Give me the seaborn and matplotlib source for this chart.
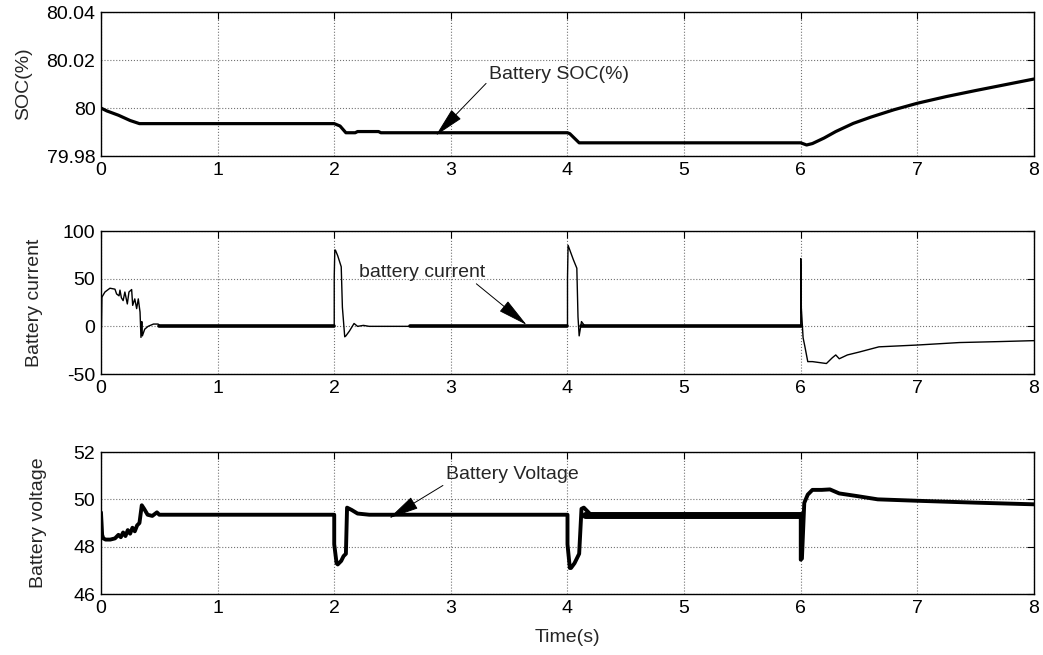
import matplotlib
matplotlib.use('Agg')
import seaborn as sns
import matplotlib.pyplot as plt

# SOC (%) trace
soc_t = [0, 0.05, 0.15, 0.25, 0.33, 2.0, 2.05, 2.1, 2.18, 2.2, 2.38, 2.4, 4.0, 4.02, 4.1,
         6.0, 6.05, 6.1, 6.2, 6.3, 6.45, 6.6, 6.8, 7.0, 7.25, 7.5, 7.75, 8.0]
soc = [80.0, 79.9988, 79.997, 79.9948, 79.9935, 79.9935, 79.9925, 79.9897, 79.9897, 79.9902,
       79.9902, 79.9897, 79.9897, 79.9893, 79.9855, 79.9855, 79.9846, 79.9852, 79.9875, 79.9902,
       79.9936, 79.9962, 79.9993, 80.0020, 80.0048, 80.0073, 80.0097, 80.0121]

# battery current trace
cur_t = [0, 0.004, 0.008, 0.01, 0.034, 0.077, 0.12, 0.134, 0.155, 0.163,
         0.175, 0.19, 0.205, 0.226, 0.24, 0.263, 0.272, 0.29, 0.306, 0.32,
         0.335, 0.343, 0.35, 0.355, 0.375, 0.404, 0.45, 0.49, 0.51, 2.0,
         2.0, 2.005, 2.01, 2.03, 2.06, 2.07, 2.09, 2.1, 2.13, 2.17,
         2.2, 2.25, 2.3, 4.0, 4.0, 4.005, 4.02, 4.05, 4.08, 4.09,
         4.1, 4.12, 4.15, 6.0, 6.0, 6.005, 6.02, 6.035, 6.06, 6.1,
         6.22, 6.27, 6.3, 6.33, 6.4, 6.5, 6.67, 7.0, 7.36, 7.7, 8.0]
cur = [0, -2, 30, 31, 36, 40, 39, 34, 32, 38,
       30, 27, 36, 23.5, 36, 38.6, 22, 28.8, 18.6, 28.8,
       15, -11.6, 5, -10, -3, 0, 2.4, 2.4, 0, 0,
       52, 80, 80, 74, 62.5, 20, -11, -10, -5, 3,
       0, 1, 0, 0, 50, 85, 80, 70, 61, 10,
       -10, 5, 0, 0, 71, 19, -12, -21, -37, -37,
       -39, -33, -30, -34, -30, -27, -21.5, -19.6, -17, -16, -15]
# switching ripple bands of the current (around 0 A)
cur_band_start = [0.5, 2.65, 4.12]
cur_band_end = [2.0, 4.0, 6.0]

# battery voltage trace
volt_t = [0, 0.005, 0.01, 0.02, 0.04, 0.08, 0.12, 0.15, 0.17, 0.19,
          0.21, 0.23, 0.25, 0.27, 0.29, 0.31, 0.33, 0.35, 0.37, 0.4,
          0.44, 0.48, 0.5, 0.53, 2.0, 2.0, 2.02, 2.03, 2.06, 2.08,
          2.1, 2.11, 2.15, 2.2, 2.3, 4.0, 4.0, 4.02, 4.03, 4.06,
          4.1, 4.12, 4.14, 4.2, 6.0, 6.0, 6.01, 6.03, 6.06, 6.1,
          6.18, 6.25, 6.33, 6.48, 6.66, 7.0, 7.5, 8.0]
volt = [49.45, 49.0, 48.5, 48.35, 48.3, 48.3, 48.35, 48.5, 48.4, 48.6,
        48.45, 48.7, 48.55, 48.8, 48.65, 48.9, 49.0, 49.75, 49.6, 49.35,
        49.3, 49.45, 49.35, 49.35, 49.35, 48.1, 47.3, 47.25, 47.4, 47.6,
        47.7, 49.65, 49.55, 49.4, 49.35, 49.35, 48.1, 47.1, 47.1, 47.3,
        47.7, 49.6, 49.65, 49.35, 49.35, 47.45, 47.5, 49.85, 50.2, 50.4,
        50.4, 50.42, 50.25, 50.14, 50.0, 49.94, 49.86, 49.79]
volt_band_start = [4.15]
volt_band_end = [6.0]

x_ticks = [0, 1, 2, 3, 4, 5, 6, 7, 8]
soc_ticks = [79.98, 80.0, 80.02, 80.04]
soc_labels = ['79.98', '80', '80.02', '80.04']
cur_ticks = [-50, 0, 50, 100]
volt_ticks = [46, 48, 50, 52]

sns.set_style('white')
plt.rcParams['font.family'] = ['Liberation Sans', 'DejaVu Sans']
plt.rcParams['font.size'] = 14
plt.rcParams['axes.unicode_minus'] = False

fig = plt.figure(figsize=(10.43, 6.55), dpi=100)
ax1 = fig.add_axes([0.0968, 0.7618, 0.8946, 0.2198])
ax2 = fig.add_axes([0.0968, 0.4290, 0.8946, 0.2183])
ax3 = fig.add_axes([0.0968, 0.0931, 0.8946, 0.2168])

sns.lineplot(x=soc_t, y=soc, ax=ax1, color='black', lw=2.3, estimator=None, sort=False)
sns.lineplot(x=cur_t, y=cur, ax=ax2, color='black', lw=1.0, estimator=None, sort=False)
for s, e in zip(cur_band_start, cur_band_end):
    sns.lineplot(x=[s, e], y=[0, 0], ax=ax2, color='black', lw=2.6, estimator=None, sort=False)
sns.lineplot(x=volt_t, y=volt, ax=ax3, color='black', lw=2.8, estimator=None, sort=False)
for s, e in zip(volt_band_start, volt_band_end):
    sns.lineplot(x=[s, e], y=[49.35, 49.35], ax=ax3, color='black', lw=5.0, estimator=None, sort=False)

for ax in (ax1, ax2, ax3):
    ax.set_xlim(0, 8)
    ax.set_xticks(x_ticks)
    ax.set_xticklabels([str(t) for t in x_ticks])
    ax.grid(True, color='0.45', linestyle=':', lw=0.8)
    ax.tick_params(direction='in', length=5, width=0.8, top=True, right=True,
                   labelsize=14, pad=4, colors='black')
    for sp in ax.spines.values():
        sp.set_color('black')
        sp.set_linewidth(1.0)
    ax.set_xlabel('')

ax1.set_ylim(79.98, 80.04)
ax1.set_yticks(soc_ticks)
ax1.set_yticklabels(soc_labels)
ax1.set_ylabel('SOC(%)', fontsize=14, labelpad=10)

ax2.set_ylim(-50, 100)
ax2.set_yticks(cur_ticks)
ax2.set_ylabel('Battery current', fontsize=14, labelpad=14)

ax3.set_ylim(46, 52)
ax3.set_yticks(volt_ticks)
ax3.set_ylabel('Battery voltage', fontsize=14, labelpad=19)
ax3.set_xlabel('Time(s)', fontsize=14, labelpad=9)

arrow = dict(arrowstyle='-|>,head_length=1.6,head_width=0.35', color='black', lw=0.7,
             mutation_scale=12, shrinkA=0, shrinkB=0)
ax1.annotate('Battery SOC(%)', xy=(2.87, 79.9885), xytext=(3.33, 80.0138),
             fontsize=14, va='center', ha='left',
             arrowprops=dict(arrow, relpos=(0.0, 0.2)))
ax2.annotate('battery current', xy=(3.65, 1.5), xytext=(2.21, 57),
             fontsize=14, va='center', ha='left',
             arrowprops=dict(arrow, relpos=(0.9, 0.0)))
ax3.annotate('Battery Voltage', xy=(2.47, 49.2), xytext=(2.96, 51.03),
             fontsize=14, va='center', ha='left',
             arrowprops=dict(arrow, relpos=(0.0, 0.0)))

fig.savefig('out.png', dpi=100)
